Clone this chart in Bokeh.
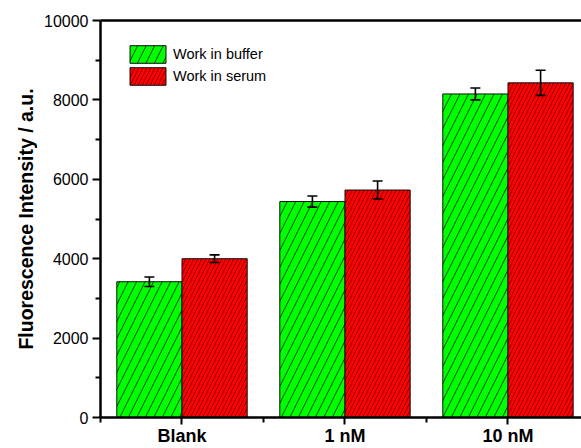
from bokeh.plotting import figure
from bokeh.models import (ColumnDataSource, Whisker, TeeHead, Range1d, FixedTicker, LinearAxis)
from bokeh.embed import file_html
from bokeh.resources import INLINE

# ---- data ----
categories = ["Blank", "1 nM", "10 nM"]
buffer_vals = [3420, 5440, 8150]
buffer_err = [120, 140, 150]
serum_vals = [4000, 5730, 8430]
serum_err = [97, 227, 315]
y_ticks = [0, 2000, 4000, 6000, 8000, 10000]
y_minor = [1000, 3000, 5000, 7000, 9000]
series_names = ["Work in buffer", "Work in serum"]

pos = [i + 1 for i in range(len(categories))]
off = 0.2
bw = 0.4

src_b = ColumnDataSource(dict(
    x=[p_ - off for p_ in pos], top=buffer_vals,
    upper=[v + e for v, e in zip(buffer_vals, buffer_err)],
    lower=[v - e for v, e in zip(buffer_vals, buffer_err)]))
src_s = ColumnDataSource(dict(
    x=[p_ + off for p_ in pos], top=serum_vals,
    upper=[v + e for v, e in zip(serum_vals, serum_err)],
    lower=[v - e for v, e in zip(serum_vals, serum_err)]))

p = figure(width=581, height=448, output_backend="svg", toolbar_location=None,
           x_range=Range1d(0.5, 3.451), y_range=Range1d(0, 10000),
           min_border_left=100, min_border_right=0, min_border_top=20,
           min_border_bottom=31)
p.background_fill_color = "white"
p.border_fill_color = "white"
p.outline_line_color = None
p.xgrid.visible = False
p.ygrid.visible = False

p.vbar(x="x", top="top", width=bw, source=src_b, fill_color="#00FF00",
       line_color="#111111", line_width=1, hatch_pattern="/", hatch_scale=17,
       hatch_weight=1, hatch_color="black", hatch_alpha=0.75,
       legend_label=series_names[0])
p.vbar(x="x", top="top", width=bw, source=src_s, fill_color="#FF0000",
       line_color="#111111", line_width=1, hatch_pattern="/", hatch_scale=8,
       hatch_weight=0.9, hatch_color="black", hatch_alpha=0.5,
       legend_label=series_names[1])

for src in (src_b, src_s):
    w = Whisker(source=src, base="x", upper="upper", lower="lower",
                line_color="black", line_width=1.6, level="overlay",
                upper_head=TeeHead(size=10, line_width=1.6, line_color="black"),
                lower_head=TeeHead(size=10, line_width=1.6, line_color="black"))
    p.add_layout(w)

# top frame line
top_ax = LinearAxis(ticker=FixedTicker(ticks=[]), axis_line_width=2.5,
                    major_tick_out=0, major_tick_in=0, minor_tick_out=0,
                    minor_tick_in=0, major_label_text_font_size="0px")
p.add_layout(top_ax, "above")

# axes
xa = p.below[0]
xa.ticker = FixedTicker(ticks=pos, minor_ticks=[0.5, 1.5, 2.5, 3.5])
xa.major_label_overrides = {pp: c for pp, c in zip(pos, categories)}
xa.axis_line_width = 2.5
xa.major_tick_line_width = 2
xa.minor_tick_line_width = 2
xa.major_tick_out = 7
xa.major_tick_in = 0
xa.minor_tick_out = 5
xa.minor_tick_in = 0
xa.major_label_text_font = "Liberation Sans"
xa.major_label_text_font_style = "bold"
xa.major_label_text_font_size = "18px"
xa.major_label_text_color = "black"
xa.major_label_standoff = 1

ya = p.left[0]
ya.ticker = FixedTicker(ticks=y_ticks, minor_ticks=y_minor)
ya.axis_line_width = 2.5
ya.major_tick_line_width = 2
ya.minor_tick_line_width = 2
ya.major_tick_out = 8
ya.major_tick_in = 0
ya.minor_tick_out = 5
ya.minor_tick_in = 0
ya.major_label_text_font = "Liberation Sans"
ya.major_label_text_font_size = "16px"
ya.major_label_text_color = "black"
ya.major_label_standoff = 4
ya.axis_label = "Fluorescence Intensity / a.u."
ya.axis_label_text_font = "Liberation Sans"
ya.axis_label_text_font_style = "bold"
ya.axis_label_text_font_size = "19.5px"
ya.axis_label_text_color = "black"
ya.axis_label_standoff = 4

lg = p.legend[0]
lg.location = (25, 330)
lg.padding = 0
lg.margin = 0
lg.spacing = 0
lg.glyph_width = 45
lg.glyph_height = 22
lg.label_height = 22
lg.label_standoff = 3
lg.label_text_font = "Liberation Sans"
lg.label_text_font_size = "14.5px"
lg.label_text_color = "black"
lg.border_line_alpha = 0
lg.background_fill_alpha = 0

open("out.html", "w").write(file_html(p, INLINE))
